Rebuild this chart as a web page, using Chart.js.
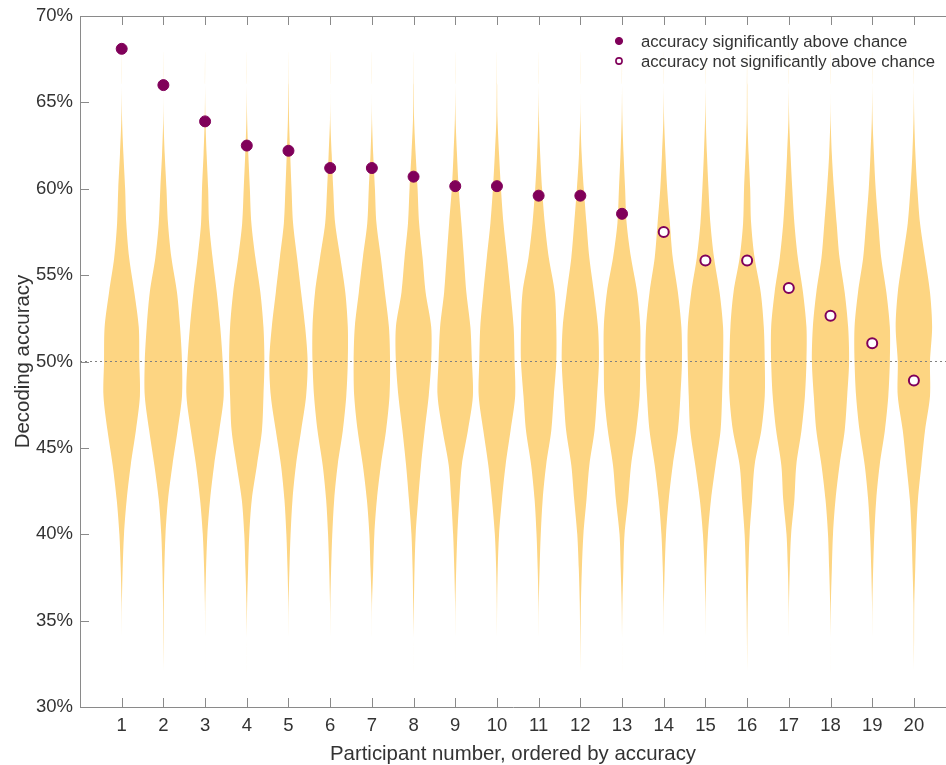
<!DOCTYPE html>
<html lang="en">
<head>
    <meta charset="UTF-8">
    <title>Decoding accuracy per participant</title>
    <style>
        html, body {
            margin: 0;
            padding: 0;
            background: #ffffff;
        }
        canvas {
            display: block;
        }
    </style>
    <script src="https://cdn.jsdelivr.net/npm/chart.js@4"></script>
</head>
<body>
    <canvas id="chart" width="946" height="765"></canvas>

    <script>
        // participants, ordered by decoding accuracy
        const participants = [1, 2, 3, 4, 5, 6, 7, 8, 9, 10, 11, 12, 13, 14, 15, 16, 17, 18, 19, 20];

        // observed decoding accuracy (%)
        const accuracy = [68.1, 66.0, 63.9, 62.5, 62.2, 61.2, 61.2, 60.7, 60.15, 60.15,
                          59.6, 59.6, 58.55, 57.5, 55.85, 55.85, 54.25, 52.65, 51.05, 48.9];

        // accuracy significantly above chance?
        const significant = [true, true, true, true, true, true, true, true, true, true,
                             true, true, true, false, false, false, false, false, false, false];

        const chanceLevel = 50;
        const yTicks = [30, 35, 40, 45, 50, 55, 60, 65, 70];

        // accuracy levels (%) at which the null distributions are read
        const densityLevels = [32, 34, 36, 38, 40, 42, 44, 46, 48, 50, 52, 54, 56, 58, 60, 62, 64, 66, 68];

        // relative density of each participant's null distribution at densityLevels
        const nullDensity = [
            [0, 0, .01, .05, .12, .26, .47, .74, .95, .92, .89, .66, .39, .24, .18, .09, .02, 0, 0],
            [0, .01, .02, .05, .11, .24, .47, .74, .97, .97, .87, .71, .42, .24, .16, .07, .01, 0, 0],
            [0, 0, .01, .05, .12, .26, .47, .74, .97, .92, .79, .61, .39, .21, .16, .08, .02, 0, 0],
            [0, 0, .02, .07, .13, .26, .53, .79, .87, .92, .87, .71, .45, .24, .16, .08, .02, 0, 0],
            [0, 0, .01, .05, .11, .21, .39, .66, .92, 1.0, .87, .66, .45, .24, .16, .09, .03, .01, 0],
            [0, 0, .01, .05, .11, .21, .39, .66, .84, .92, .92, .79, .53, .26, .16, .08, .01, 0, 0],
            [0, 0, .01, .07, .13, .26, .47, .74, .92, .95, .89, .68, .47, .24, .16, .07, .01, 0, 0],
            [0, 0, .02, .05, .11, .24, .39, .58, .79, .92, .92, .63, .47, .29, .21, .11, .03, .01, 0],
            [0, 0, .01, .05, .11, .21, .34, .66, .92, .87, .79, .58, .45, .32, .18, .09, .02, 0, 0],
            [0, 0, .01, .04, .11, .26, .45, .71, .95, .92, .87, .71, .53, .34, .21, .11, .03, .01, 0],
            [0, 0, .01, .05, .11, .21, .39, .66, .79, .92, .92, .84, .53, .32, .18, .08, .02, 0, 0],
            [0, .01, .03, .08, .16, .32, .47, .74, .87, .97, .92, .71, .47, .32, .18, .07, .01, 0, 0],
            [0, 0, .02, .07, .13, .32, .47, .74, .92, .95, .95, .79, .47, .24, .16, .08, .02, 0, 0],
            [0, 0, .01, .05, .12, .26, .47, .74, .87, .95, .92, .74, .47, .32, .18, .09, .02, 0, 0],
            [0, 0, .01, .05, .13, .29, .53, .79, .87, .92, .92, .74, .45, .26, .16, .08, .02, 0, 0],
            [0, .01, .03, .07, .13, .26, .39, .74, .92, .92, .87, .71, .39, .21, .16, .08, .02, .01, 0],
            [0, 0, .01, .05, .12, .29, .39, .66, .84, .92, .92, .74, .47, .29, .18, .09, .02, 0, 0],
            [0, 0, .02, .07, .13, .26, .47, .74, .87, .97, .92, .74, .47, .32, .18, .07, .01, 0, 0],
            [0, 0, .01, .05, .11, .21, .39, .66, .84, .92, .92, .74, .47, .32, .18, .09, .02, 0, 0],
            [0, .01, .02, .07, .12, .21, .39, .58, .84, .84, .95, .84, .58, .32, .18, .08, .02, 0, 0]
        ];

        const legendLabels = ['accuracy significantly above chance', 'accuracy not significantly above chance'];

        // styling
        const FONT = "'Liberation Sans', Arial, Helvetica, sans-serif";
        const TEXT_COLOR = '#333333';
        const AXIS_COLOR = '#8a8a8a';
        const VIOLIN_COLOR = 'rgb(253, 213, 130)';
        const DOT_COLOR = '#80005a';
        const VIOLIN_HALF_WIDTH = 0.46;   // x units for density 1
        const X_MAX = 20.77;
        const TICK_LEN = 9;

        Chart.defaults.font.family = FONT;
        Chart.defaults.color = TEXT_COLOR;

        // outline of one violin: right side bottom->top, then left side top->bottom
        function violinOutline(p, dens) {
            const right = densityLevels.map((lv, k) => ({ x: p + dens[k] * VIOLIN_HALF_WIDTH, y: lv }));
            const left = densityLevels.map((lv, k) => ({ x: p - dens[k] * VIOLIN_HALF_WIDTH, y: lv }));
            left.reverse();
            return right.concat(left.slice(1, -1));
        }

        const violinSets = participants.map((p, i) => ({
            label: 'null ' + p,
            data: violinOutline(p, nullDensity[i]),
            showLine: true,
            fill: 'shape',
            backgroundColor: VIOLIN_COLOR,
            borderWidth: 0,
            borderColor: 'rgba(0,0,0,0)',
            pointRadius: 0,
            tension: 0.3,
            order: 3
        }));

        const sigPoints = participants.filter((p, i) => significant[i]).map(p => ({ x: p, y: accuracy[p - 1] }));
        const nonSigPoints = participants.filter((p, i) => !significant[i]).map(p => ({ x: p, y: accuracy[p - 1] }));

        const chanceSet = {
            label: 'chance',
            data: [{ x: 0, y: chanceLevel }, { x: X_MAX, y: chanceLevel }],
            showLine: true,
            borderColor: '#808080',
            borderWidth: 1,
            borderDash: [2, 3],
            pointRadius: 0,
            order: 2
        };

        const sigSet = {
            label: legendLabels[0],
            data: sigPoints,
            pointRadius: 5.5,
            pointBackgroundColor: DOT_COLOR,
            pointBorderColor: DOT_COLOR,
            pointBorderWidth: 1,
            order: 0
        };

        const nonSigSet = {
            label: legendLabels[1],
            data: nonSigPoints,
            pointRadius: 5,
            pointBackgroundColor: '#ffffff',
            pointBorderColor: DOT_COLOR,
            pointBorderWidth: 2,
            order: 1
        };

        // inward tick marks and the top box edge, like the original figure
        const axisDecor = {
            id: 'axisDecor',
            afterDraw(chart) {
                const { ctx, chartArea: a, scales: { x, y } } = chart;
                ctx.save();
                ctx.strokeStyle = AXIS_COLOR;
                ctx.lineWidth = 1;
                ctx.beginPath();
                ctx.moveTo(a.left, a.top + 0.5);
                ctx.lineTo(a.right, a.top + 0.5);
                x.ticks.forEach(t => {
                    const px = Math.round(x.getPixelForValue(t.value)) + 0.5;
                    ctx.moveTo(px, a.bottom);
                    ctx.lineTo(px, a.bottom - TICK_LEN);
                    ctx.moveTo(px, a.top);
                    ctx.lineTo(px, a.top + TICK_LEN);
                });
                y.ticks.forEach(t => {
                    const py = Math.round(y.getPixelForValue(t.value)) + 0.5;
                    ctx.moveTo(a.left, py);
                    ctx.lineTo(a.left + TICK_LEN, py);
                });
                ctx.stroke();
                ctx.restore();
            }
        };

        // legend box inside the plot, top right
        const insideLegend = {
            id: 'insideLegend',
            afterDraw(chart, args, opts) {
                const { ctx, chartArea: a } = chart;
                const mx = a.right - opts.fromRight;
                ctx.save();
                ctx.font = opts.fontSize + 'px ' + FONT;
                ctx.textBaseline = 'middle';
                [sigSet, nonSigSet].forEach((ds, i) => {
                    const cy = a.top + opts.firstRow + i * opts.rowGap;
                    ctx.beginPath();
                    ctx.arc(mx, cy, i === 0 ? 3.6 : 3.1, 0, Math.PI * 2);
                    ctx.fillStyle = ds.pointBackgroundColor;
                    ctx.fill();
                    ctx.lineWidth = i === 0 ? 1 : 1.6;
                    ctx.strokeStyle = ds.pointBorderColor;
                    ctx.stroke();
                    ctx.fillStyle = TEXT_COLOR;
                    ctx.fillText(ds.label, mx + opts.textGap, cy + 1);
                });
                ctx.restore();
            }
        };

        new Chart(document.getElementById('chart'), {
            type: 'scatter',
            data: {
                datasets: [sigSet, nonSigSet, chanceSet].concat(violinSets)
            },
            options: {
                responsive: false,
                animation: false,
                events: [],
                layout: { autoPadding: false, padding: { top: 16, right: 0, bottom: 0, left: 0 } },
                plugins: {
                    legend: { display: false },
                    tooltip: { enabled: false },
                    insideLegend: { fromRight: 327, firstRow: 25, rowGap: 20, textGap: 22, fontSize: 16.7 }
                },
                scales: {
                    x: {
                        type: 'linear',
                        min: 0,
                        max: X_MAX,
                        afterBuildTicks: s => { s.ticks = participants.map(v => ({ value: v })); },
                        afterFit: s => { s.height = 58; s.paddingLeft = 0; s.paddingRight = 0; },
                        grid: { drawOnChartArea: false, drawTicks: false },
                        border: { display: true, color: AXIS_COLOR, width: 1 },
                        ticks: { font: { size: 18.5 }, padding: 8, color: TEXT_COLOR, maxRotation: 0, autoSkip: false },
                        title: {
                            display: true,
                            text: 'Participant number, ordered by accuracy',
                            font: { size: 20.4, lineHeight: 1 },
                            padding: { top: 0, bottom: 0 },
                            color: TEXT_COLOR
                        }
                    },
                    y: {
                        type: 'linear',
                        min: 30,
                        max: 70,
                        afterBuildTicks: s => { s.ticks = yTicks.map(v => ({ value: v })); },
                        afterFit: s => { s.width = 80; s.paddingTop = 0; s.paddingBottom = 0; },
                        grid: { drawOnChartArea: false, drawTicks: false },
                        border: { display: true, color: AXIS_COLOR, width: 1 },
                        ticks: { font: { size: 18.5 }, padding: 7, color: TEXT_COLOR, callback: v => v + '%' },
                        title: {
                            display: true,
                            text: 'Decoding accuracy',
                            font: { size: 20.4 },
                            padding: { top: 11, bottom: 0 },
                            color: TEXT_COLOR
                        }
                    }
                }
            },
            plugins: [axisDecor, insideLegend]
        });
    </script>
</body>
</html>
